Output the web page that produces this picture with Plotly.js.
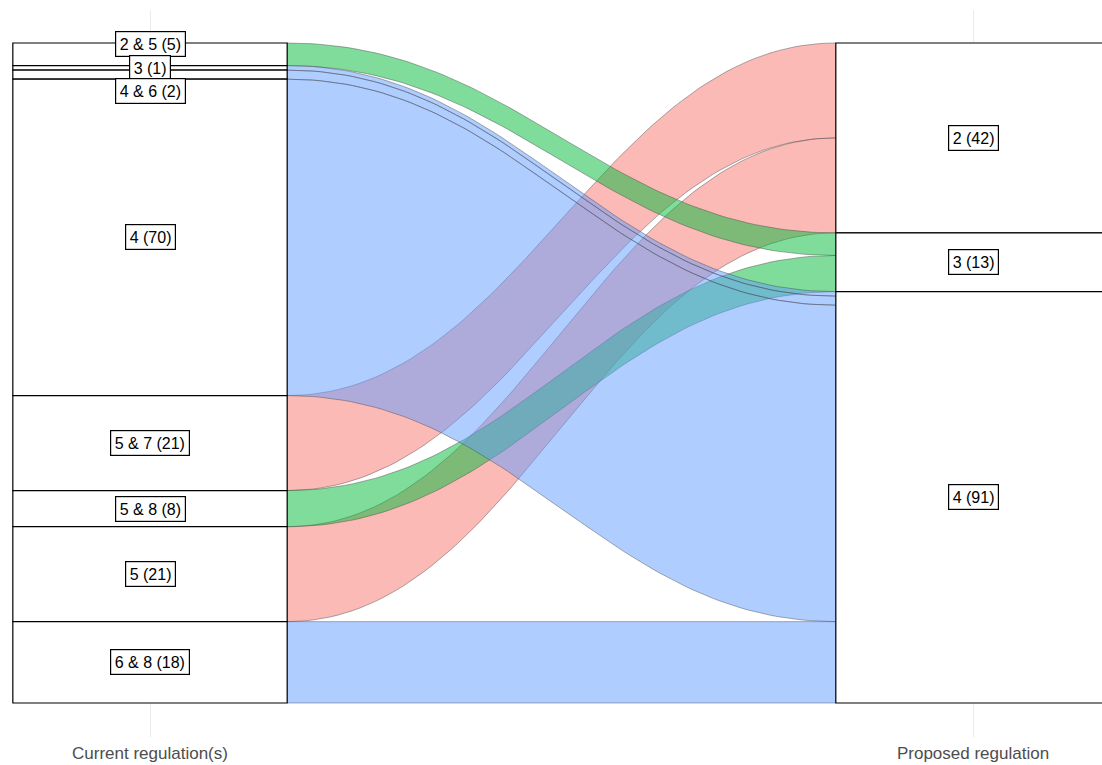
<!DOCTYPE html>
<html>
<head>
<meta charset="utf-8">
<script src="https://cdn.plot.ly/plotly-3.0.1.min.js"></script>
<style>html,body{margin:0;padding:0;background:#fff;}</style>
</head>
<body>
<div id="chart" style="width:1102px;height:765px;"></div>
<script>
// ---- data ----
var axisLabels = ["Current regulation(s)", "Proposed regulation"];
var currentStrata = ["2 & 5", "3", "4 & 6", "4", "5 & 7", "5 & 8", "5", "6 & 8"];
var proposedFor   = ["3",     "4", "4",     "4", "2",     "3",     "2", "4"];
var flowCounts    = [5,       1,   2,       70,  21,      8,       21,  18];
var proposedStrata = ["2", "3", "4"];
var proposedColors = {"2": "rgba(248,118,109,0.5)", "3": "rgba(0,186,56,0.5)", "4": "rgba(97,156,255,0.5)"};
var drawOrder = ["2", "3", "4"];
// label nudges (repelled labels), pixels
var labelShift = {"2 & 5": 10, "4 & 6": -16};

// ---- geometry helpers ----
var total = flowCounts.reduce(function(a, b){ return a + b; }, 0);
var halfW = 1 / 6;
var x0 = 1 + halfW, x1 = 2 - halfW;

var leftTop = [], acc = 0;
for (var i = 0; i < currentStrata.length; i++) { leftTop.push(total - acc); acc += flowCounts[i]; }

var rightCount = {}, rightTop = {};
proposedStrata.forEach(function(p){ rightCount[p] = 0; });
for (var i = 0; i < flowCounts.length; i++) rightCount[proposedFor[i]] += flowCounts[i];
acc = 0;
proposedStrata.forEach(function(p){ rightTop[p] = total - acc; acc += rightCount[p]; });

var rightFill = {};
proposedStrata.forEach(function(p){ rightFill[p] = rightTop[p]; });
var flowRightTop = [];
for (var i = 0; i < flowCounts.length; i++) {
  var p = proposedFor[i];
  flowRightTop.push(rightFill[p]);
  rightFill[p] -= flowCounts[i];
}

var K = 0.42, N = 80;
function curve(ya, yb) {
  var xs = [], ys = [];
  var d = x1 - x0;
  for (var j = 0; j <= N; j++) {
    var t = j / N, u = 1 - t;
    var bx = u*u*u*x0 + 3*u*u*t*(x0 + K*d) + 3*u*t*t*(x1 - K*d) + t*t*t*x1;
    var by = u*u*u*ya + 3*u*u*t*ya + 3*u*t*t*yb + t*t*t*yb;
    xs.push(bx); ys.push(by);
  }
  return {x: xs, y: ys};
}

var traces = [];
drawOrder.forEach(function(p){
  for (var i = 0; i < flowCounts.length; i++) {
    if (proposedFor[i] !== p) continue;
    var top = curve(leftTop[i], flowRightTop[i]);
    var bot = curve(leftTop[i] - flowCounts[i], flowRightTop[i] - flowCounts[i]);
    var xs = top.x.concat(bot.x.slice().reverse());
    var ys = top.y.concat(bot.y.slice().reverse());
    xs.push(xs[0]); ys.push(ys[0]);
    traces.push({
      type: "scatter", mode: "lines", x: xs, y: ys,
      fill: "toself", fillcolor: proposedColors[p],
      line: {color: "rgba(70,70,70,0.55)", width: 0.8},
      hoverinfo: "skip", showlegend: false
    });
  }
});

var shapes = [], annotations = [];
for (var i = 0; i < currentStrata.length; i++) {
  shapes.push({type: "rect", xref: "x", yref: "y", x0: 1 - halfW, x1: 1 + halfW,
    y0: leftTop[i] - flowCounts[i], y1: leftTop[i],
    fillcolor: "#ffffff", line: {color: "#000000", width: 1.2}, layer: "above"});
}
proposedStrata.forEach(function(p){
  shapes.push({type: "rect", xref: "x", yref: "y", x0: 2 - halfW, x1: 2 + halfW,
    y0: rightTop[p] - rightCount[p], y1: rightTop[p],
    fillcolor: "#ffffff", line: {color: "#000000", width: 1.2}, layer: "above"});
});
var labelStyle = {font: {family: "Liberation Sans, Arial, sans-serif", size: 16, color: "#000"},
  bgcolor: "#ffffff", bordercolor: "#000000", borderwidth: 1.2, borderpad: 3.5, showarrow: false};
for (var i = 0; i < currentStrata.length; i++) {
  annotations.push(Object.assign({}, labelStyle, {
    x: 1, y: leftTop[i] - flowCounts[i] / 2, xref: "x", yref: "y",
    yshift: labelShift[currentStrata[i]] || 0,
    text: currentStrata[i] + " (" + flowCounts[i] + ")"}));
}
proposedStrata.forEach(function(p){
  annotations.push(Object.assign({}, labelStyle, {
    x: 2, y: rightTop[p] - rightCount[p] / 2, xref: "x", yref: "y",
    text: p + " (" + rightCount[p] + ")"}));
});

var pxPerX = 823, pxPerY = 660 / total;
var layout = {
  width: 1102, height: 765,
  margin: {l: 0, r: 0, t: 10, b: 28},
  paper_bgcolor: "#ffffff", plot_bgcolor: "#ffffff",
  showlegend: false,
  xaxis: {range: [1 - 150 / pxPerX, 1 + 952 / pxPerX], tickvals: [1, 2], ticktext: axisLabels,
    showgrid: true, gridcolor: "#EBEBEB", gridwidth: 1, zeroline: false, showline: false,
    ticks: "", ticklabelstandoff: 4,
    tickfont: {family: "Liberation Sans, Arial, sans-serif", size: 17, color: "#4D4D4D"},
    fixedrange: true},
  yaxis: {range: [-34 / pxPerY, total + 33 / pxPerY], showgrid: false, zeroline: false,
    showticklabels: false, showline: false, ticks: "", fixedrange: true},
  shapes: shapes, annotations: annotations
};
Plotly.newPlot("chart", traces, layout, {displayModeBar: false, staticPlot: true});
</script>
</body>
</html>
